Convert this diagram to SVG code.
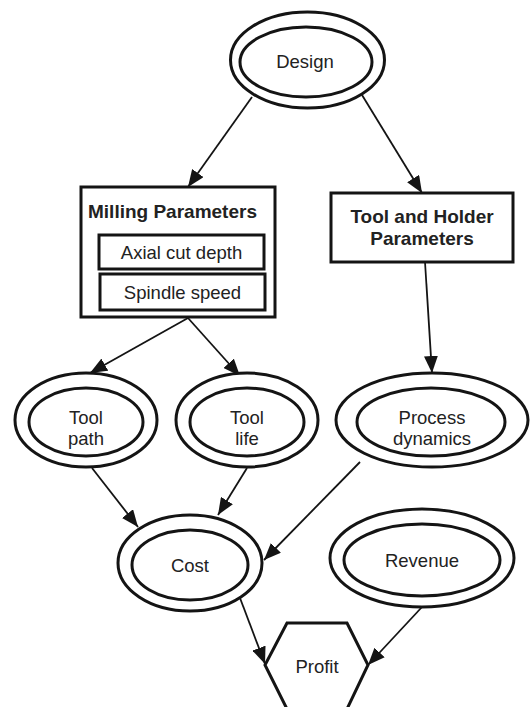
<svg xmlns="http://www.w3.org/2000/svg" width="531" height="707" viewBox="0 0 531 707">
<style>
.o{fill:#fff;stroke:#141414;stroke-width:3}
.i{fill:none;stroke:#141414;stroke-width:3}
.t{font-family:"Liberation Sans",Arial,sans-serif;font-size:18.5px;fill:#222;text-anchor:middle}
.b{font-weight:bold;font-size:19px}
.c{stroke:#141414;stroke-width:1.8;fill:none;marker-end:url(#ah)}
</style>
<defs>
<marker id="ah" viewBox="0 0 17 14" refX="17" refY="7" markerWidth="17" markerHeight="14" markerUnits="userSpaceOnUse" orient="auto">
<path d="M0,0 L17,7 L0,14 z" fill="#141414"/>
</marker>
</defs>
<rect width="531" height="707" fill="#fff"/>
<g id="connectors">
<line class="c" x1="252" y1="97" x2="188" y2="187"/>
<line class="c" x1="362" y1="95" x2="422" y2="193"/>
<line class="c" x1="188" y1="318" x2="90" y2="373"/>
<line class="c" x1="188" y1="318" x2="240" y2="376"/>
<line class="c" x1="425" y1="262" x2="432" y2="373"/>
<line class="c" x1="92" y1="468" x2="138" y2="527"/>
<line class="c" x1="247" y1="468" x2="218" y2="515"/>
<line class="c" x1="360" y1="462" x2="264" y2="560"/>
<line class="c" x1="240" y1="598" x2="265" y2="664"/>
<line class="c" x1="422" y1="607" x2="368" y2="665"/>
</g>
<g id="design">
<ellipse class="o" cx="307.5" cy="60" rx="77" ry="48"/>
<ellipse class="i" cx="306" cy="62" rx="66" ry="35"/>
<text class="t" x="305" y="68">Design</text>
</g>
<g id="milling">
<rect class="o" x="81" y="187" width="194" height="130"/>
<text class="t b" x="88" y="218" style="text-anchor:start">Milling Parameters</text>
<rect class="i" x="99" y="235" width="165" height="34"/>
<text class="t" x="181.5" y="259">Axial cut depth</text>
<rect class="i" x="100" y="274" width="165" height="36"/>
<text class="t" x="182.5" y="299">Spindle speed</text>
</g>
<g id="toolholder">
<rect class="o" x="331" y="193" width="182" height="69"/>
<text class="t b" x="422" y="223">Tool and Holder</text>
<text class="t b" x="422" y="245">Parameters</text>
</g>
<g id="toolpath">
<ellipse class="o" cx="86" cy="420" rx="71" ry="47"/>
<ellipse class="i" cx="86" cy="422" rx="57" ry="34"/>
<text class="t" x="86" y="424">Tool</text>
<text class="t" x="86" y="445">path</text>
</g>
<g id="toollife">
<ellipse class="o" cx="247" cy="420" rx="71" ry="47"/>
<ellipse class="i" cx="247" cy="422" rx="57" ry="34"/>
<text class="t" x="247" y="424">Tool</text>
<text class="t" x="247" y="445">life</text>
</g>
<g id="process">
<ellipse class="o" cx="432" cy="420" rx="96" ry="47"/>
<ellipse class="i" cx="431" cy="422" rx="74" ry="34"/>
<text class="t" x="432" y="424">Process</text>
<text class="t" x="432" y="445">dynamics</text>
</g>
<g id="cost">
<ellipse class="o" cx="190" cy="563" rx="72" ry="48"/>
<ellipse class="i" cx="190" cy="565" rx="58" ry="35"/>
<text class="t" x="190" y="572">Cost</text>
</g>
<g id="revenue">
<ellipse class="o" cx="422" cy="558" rx="92" ry="49"/>
<ellipse class="i" cx="422" cy="560" rx="78" ry="36"/>
<text class="t" x="422" y="567">Revenue</text>
</g>
<g id="profit">
<polygon class="o" points="287,623 347,623 368,665 347,709 287,709 265,665"/>
<text class="t" x="317" y="673">Profit</text>
</g>
</svg>
